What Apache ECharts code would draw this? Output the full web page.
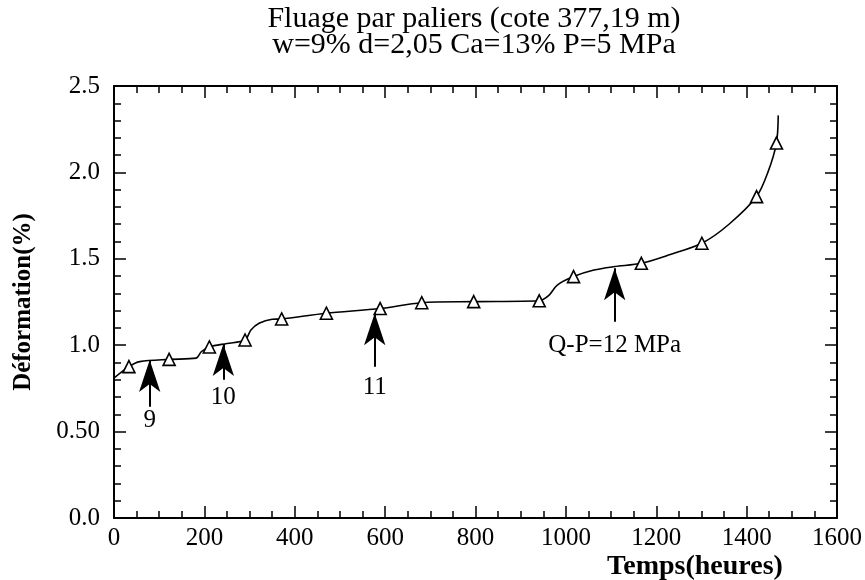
<!DOCTYPE html>
<html><head><meta charset="utf-8">
<script src="https://cdn.jsdelivr.net/npm/echarts@6/dist/echarts.min.js"></script>
<style>html,body{margin:0;padding:0;background:#fff}#c{width:865px;height:580px}</style>
</head><body><div id="c"></div>
<script>
// curve (hours, deformation %)
const curveX = [0, 33, 57, 122, 182, 193, 211, 250, 290, 303, 321, 350, 371, 470, 589, 681, 796, 941, 963, 981, 1017, 1062, 1108, 1167, 1231, 1301, 1361, 1422, 1447, 1466, 1470];
const curveY = [0.81, 0.876, 0.905, 0.918, 0.925, 0.962, 0.99, 1.01, 1.03, 1.088, 1.127, 1.15, 1.152, 1.185, 1.212, 1.246, 1.252, 1.257, 1.29, 1.348, 1.397, 1.435, 1.455, 1.474, 1.525, 1.59, 1.70, 1.86, 2.0, 2.17, 2.33];
// measured points (triangles)
const ptX = [33, 122, 211, 290, 371, 470, 589, 681, 796, 941, 1017, 1167, 1301, 1422, 1466];
const ptY = [0.876, 0.918, 0.99, 1.03, 1.152, 1.185, 1.212, 1.246, 1.252, 1.257, 1.397, 1.474, 1.59, 1.86, 2.17];
// stress step arrows
const arrowX = [79, 242, 577, 1108];
const arrowTip = [0.914, 1.007, 1.185, 1.445];
const arrowBase = [0.644, 0.80, 0.876, 1.136];
const arrowLabels = ['9', '10', '11', 'Q-P=12 MPa'];
const labelY = [0.567, 0.70, 0.758, 1.001];
const xTicks = [0, 200, 400, 600, 800, 1000, 1200, 1400, 1600];
const yTickLabels = ['0.0', '0.50', '1.0', '1.5', '2.0', '2.5'];
const titleLines = ['Fluage par paliers (cote 377,19 m)', 'w=9% d=2,05 Ca=13% P=5 MPa'];
const xName = 'Temps(heures)';
const yName = 'Déformation(%)';

const serif = '"Liberation Serif", "Times New Roman", serif';
const chart = echarts.init(document.getElementById('c'));
function axisCommon(split) {
  return {
    axisLine: {show: true, onZero: false, lineStyle: {color: '#000', width: 2}},
    axisTick: {show: true, inside: true, length: 12, lineStyle: {color: '#000', width: 1.5}},
    minorTick: {show: true, splitNumber: split, length: 7, lineStyle: {color: '#000', width: 1.5}},
    splitLine: {show: false}, minorSplitLine: {show: false}
  };
}
const xBase = Object.assign({type: 'value', min: 0, max: 1600, interval: 200}, axisCommon(4));
const yBase = Object.assign({type: 'value', min: 0, max: 2.5, interval: 0.5}, axisCommon(5));

chart.setOption({
  backgroundColor: '#fff',
  animation: false,
  title: [
    {text: titleLines.join('\n'), left: 469, top: 1, textAlign: 'center',
     textStyle: {fontFamily: serif, fontSize: 30, fontWeight: 'normal', color: '#000', lineHeight: 26}},
    {text: xName, left: 690, top: 548, textAlign: 'center',
     textStyle: {fontFamily: serif, fontSize: 28, fontWeight: 'bold', color: '#000'}}
  ],
  grid: {left: 114, right: 24, top: 86, bottom: 62},
  xAxis: [
    Object.assign({}, xBase, {position: 'bottom',
      axisLabel: {show: true, color: '#000', fontFamily: serif, fontSize: 25, margin: 8,
        formatter: v => xTicks.indexOf(v) >= 0 ? String(v) : ''}}),
    Object.assign({}, xBase, {position: 'top', axisLabel: {show: false}})
  ],
  yAxis: [
    Object.assign({}, yBase, {position: 'left', name: yName, nameLocation: 'middle', nameGap: 78,
      nameTextStyle: {fontFamily: serif, fontSize: 25, fontWeight: 'bold', color: '#000'},
      axisLabel: {show: true, color: '#000', fontFamily: serif, fontSize: 25, margin: 14,
        formatter: v => yTickLabels[Math.round(v / 0.5)]}}),
    Object.assign({}, yBase, {position: 'right', axisLabel: {show: false}})
  ],
  series: [
    {type: 'line', data: curveX.map((x, i) => [x, curveY[i]]), smooth: 0.3,
     showSymbol: false, lineStyle: {color: '#000', width: 1.6}, z: 2},
    {type: 'scatter', data: ptX.map((x, i) => [x, ptY[i]]), symbol: 'triangle', symbolSize: 12,
     itemStyle: {color: '#fff', borderColor: '#000', borderWidth: 1.6, opacity: 1}, z: 3},
    {type: 'line', data: [], z: 4,
     markLine: {silent: true, symbol: ['none', 'none'], animation: false, label: {show: false},
       lineStyle: {color: '#000', width: 2, type: 'solid'},
       data: arrowX.map((x, i) => [{coord: [x, arrowBase[i]]}, {coord: [x, arrowTip[i]]}])}},
    {type: 'scatter', data: arrowX.map((x, i) => [x, arrowTip[i]]), symbol: 'arrow',
     symbolSize: [16, 32], symbolOffset: [0, 0], itemStyle: {color: '#000', opacity: 1}, z: 5},
    {type: 'scatter', data: arrowX.map((x, i) => ({value: [x, labelY[i]], name: arrowLabels[i]})),
     symbolSize: 0, z: 6, itemStyle: {opacity: 1},
     label: {show: true, position: 'inside', formatter: p => p.name, color: '#000',
       fontFamily: serif, fontSize: 25}}
  ]
});
</script></body></html>
